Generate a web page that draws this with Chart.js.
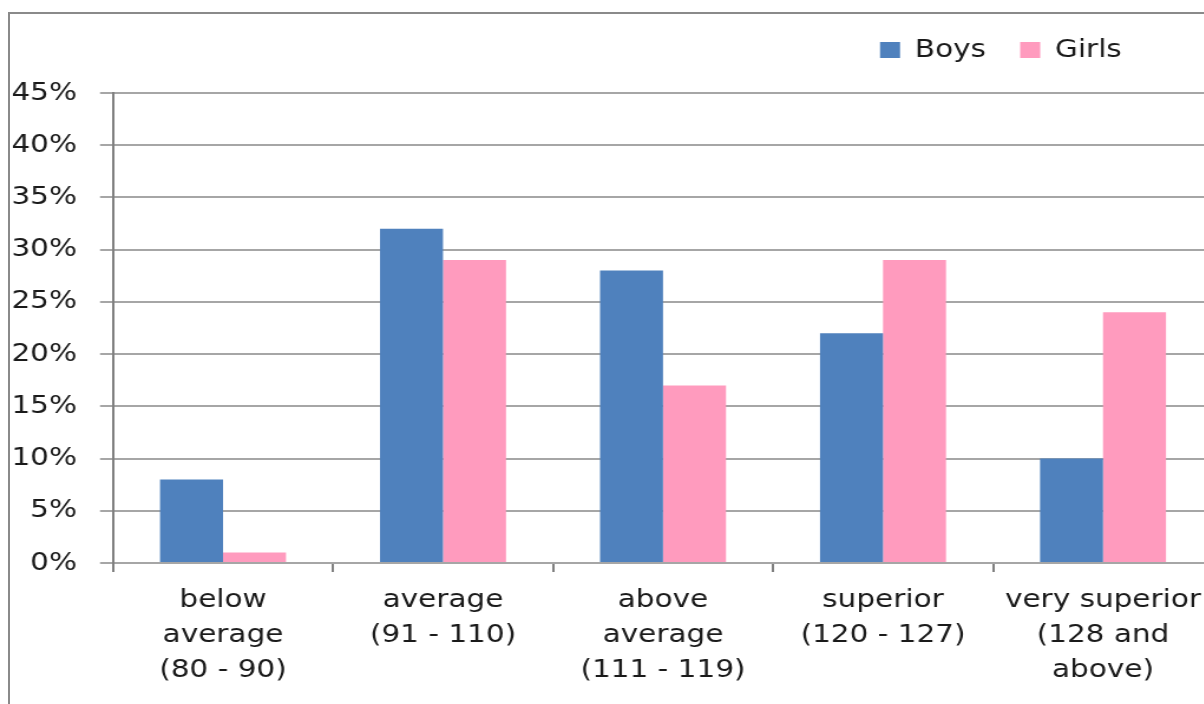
<!DOCTYPE html>
<html><head><meta charset="utf-8">
<script src="https://cdn.jsdelivr.net/npm/chart.js@4"></script>
<style>
html,body{margin:0;padding:0;overflow:hidden;width:1204px;height:704px;background:#fff;}
#frame{position:absolute;left:8px;top:12px;width:1300px;height:800px;border-left:2px solid #8a8a8a;border-top:2px solid #8a8a8a;}
#c{position:absolute;left:0;top:0;transform:scaleX(1.18);transform-origin:0 0;}
</style></head><body>
<div id="frame"></div>
<canvas id="c" width="1100" height="704"></canvas>
<script>
// ---- data ----
const categories = [
  ["below", "average", "(80 - 90)"],
  ["average", "(91 - 110)"],
  ["above", "average", "(111 - 119)"],
  ["superior", "(120 - 127)"],
  ["very superior", "(128 and", "above)"]
];
const seriesNames = ["Boys", "Girls"];
const boys = [8, 32, 28, 22, 10];
const girls = [1, 29, 17, 29, 24];
const yTickValues = [0, 5, 10, 15, 20, 25, 30, 35, 40, 45];

// ---- layout (canvas is stretched horizontally like the reference) ----
const SX = 1.18;
const CW = 1100, CH = 704;
const PLOT_LEFT = 113 / SX, PLOT_RIGHT = 1213 / SX, PLOT_TOP = 93, PLOT_BOTTOM = 563;
const FONT = 25;
const LEG_PAD = 29;

Chart.defaults.font.family = "'DejaVu Sans', sans-serif";
Chart.defaults.font.size = FONT;
Chart.defaults.color = '#1a1a1a';

const legendPos = {
  id: 'legendPos',
  afterLayout(chart) {
    const l = chart.legend;
    const left = 880 / SX - LEG_PAD;
    const top = 37.5 - LEG_PAD;
    const h = l.height;
    l.left = left; l.right = left + 400;
    l.top = top; l.bottom = top + h;
  }
};

new Chart(document.getElementById('c'), {
  type: 'bar',
  data: {
    labels: categories,
    datasets: [
      { label: seriesNames[0], data: boys, backgroundColor: '#4F81BD', borderWidth: 0,
        barPercentage: 1, categoryPercentage: 126 / 220 },
      { label: seriesNames[1], data: girls, backgroundColor: '#FF9BBE', borderWidth: 0,
        barPercentage: 1, categoryPercentage: 126 / 220 }
    ]
  },
  options: {
    responsive: false,
    devicePixelRatio: 1,
    animation: false,
    layout: { padding: { left: 0, right: CW - PLOT_RIGHT, top: PLOT_TOP - (FONT + LEG_PAD + 10), bottom: 0 } },
    plugins: {
      tooltip: { enabled: false },
      legend: {
        position: 'top', align: 'start',
        labels: { boxWidth: 17, boxHeight: 16, padding: LEG_PAD, color: '#1a1a1a', font: { size: FONT } }
      }
    },
    scales: {
      x: {
        offset: true,
        grid: { offset: true, drawOnChartArea: false, drawTicks: true, tickLength: 9, tickColor: '#808080', lineWidth: 2 },
        border: { color: '#a6a6a6', width: 2 },
        ticks: { padding: 10.5, color: '#1a1a1a', font: { size: FONT, lineHeight: 1.4 }, maxRotation: 0, minRotation: 0, autoSkip: false },
        afterFit(s) { s.height = CH - PLOT_BOTTOM; }
      },
      y: {
        min: 0, max: 45,
        afterBuildTicks(s) { s.ticks = yTickValues.map(v => ({ value: v })); },
        ticks: { callback: v => v + '%', padding: 19.5, color: '#1a1a1a', font: { size: FONT } },
        grid: { color: '#a6a6a6', lineWidth: 2, tickLength: 11, drawTicks: true },
        border: { color: '#808080', width: 2 },
        afterFit(s) { s.width = PLOT_LEFT; }
      }
    }
  },
  plugins: [legendPos]
});
</script>
</body></html>
